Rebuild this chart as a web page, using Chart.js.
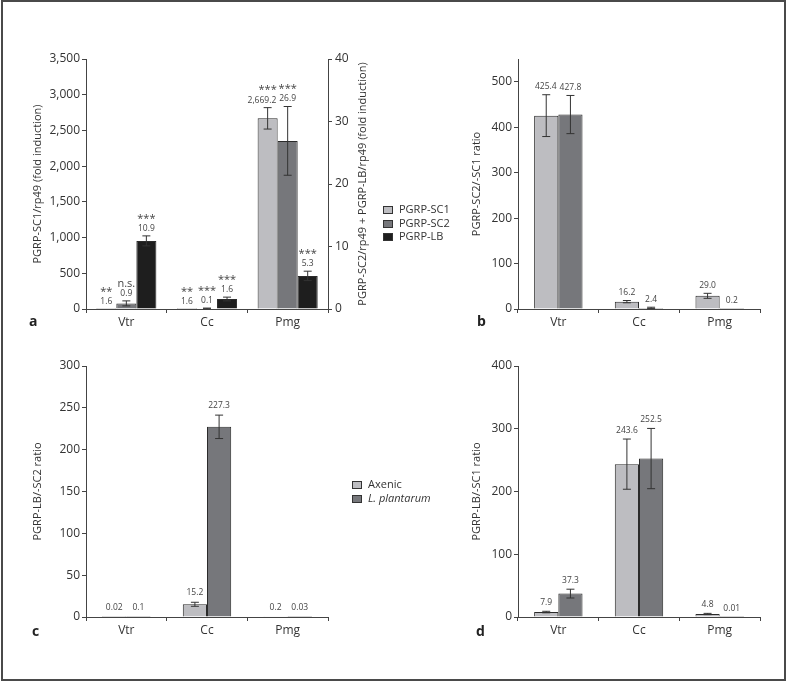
<!DOCTYPE html>
<html>
<head>
<meta charset="utf-8">
<script src="https://cdn.jsdelivr.net/npm/chart.js@4/dist/chart.umd.min.js"></script>
<style>
body { margin: 0; background: #fff; font-family: "Open Sans", sans-serif; }
#frame { position: absolute; left: 1px; top: 0; width: 785px; height: 681px; box-sizing: border-box; border: 2px solid #4a4a4a; }
canvas { position: absolute; }
.letter { position: absolute; font-weight: bold; font-size: 14px; color: #222; line-height: 16px; }
.legend { position: absolute; font-size: 11px; color: #333; }
.legend div { height: 13.5px; line-height: 13.5px; white-space: nowrap; }
.legend span { display: inline-block; width: 8px; height: 6px; border: 1px solid #333; margin-right: 6px; vertical-align: -1px; }
</style>
</head>
<body>
<div id="frame"></div>
<canvas id="chartA" width="400" height="345" style="left:0;top:0"></canvas>
<canvas id="chartB" width="387" height="345" style="left:400px;top:0"></canvas>
<canvas id="chartC" width="400" height="337" style="left:0;top:345px"></canvas>
<canvas id="chartD" width="387" height="337" style="left:400px;top:345px"></canvas>

<div class="letter" style="left:29px;top:313px">a</div>
<div class="letter" style="left:477px;top:313px">b</div>
<div class="letter" style="left:32px;top:623px">c</div>
<div class="letter" style="left:476px;top:623px">d</div>

<div class="legend" style="left:383px;top:202px">
  <div><span style="background:#bdbdc1"></span>PGRP-SC1</div>
  <div><span style="background:#76777b"></span>PGRP-SC2</div>
  <div><span style="background:#1e1e1e"></span>PGRP-LB</div>
</div>
<div class="legend" style="left:352px;top:477px">
  <div><span style="background:#bdbdc1"></span>Axenic</div>
  <div><span style="background:#76777b"></span><i>L. plantarum</i></div>
</div>

<script>
const categories = ['Vtr', 'Cc', 'Pmg'];

// panel a: SC1 on left axis, SC2 and LB on right axis
const aSC1 = [1.6, 1.6, 2669.2];
const aSC1Err = [0, 0, 150];
const aSC1Text = ['1.6', '1.6', '2,669.2'];
const aSC1Stars = ['**', '**', '***'];
const aSC2 = [0.9, 0.1, 26.9];
const aSC2Err = [0.4, 0.05, 5.5];
const aSC2Text = ['0.9', '0.1', '26.9'];
const aSC2Stars = ['n.s.', '***', '***'];
const aLB = [10.9, 1.6, 5.3];
const aLBErr = [0.8, 0.3, 0.75];
const aLBText = ['10.9', '1.6', '5.3'];
const aLBStars = ['***', '***', '***'];

// panel b: SC2/SC1 ratio
const bSC1 = [425.4, 16.2, 29.0];
const bSC1Err = [46, 2.5, 5.5];
const bSC1Text = ['425.4', '16.2', '29.0'];
const bSC2 = [427.8, 2.4, 0.2];
const bSC2Err = [42, 1.5, 0];
const bSC2Text = ['427.8', '2.4', '0.2'];

// panel c: LB/SC2 ratio
const cAxenic = [0.02, 15.2, 0.2];
const cAxenicErr = [0, 2.4, 0];
const cAxenicText = ['0.02', '15.2', '0.2'];
const cLp = [0.1, 227.3, 0.03];
const cLpErr = [0, 14, 0];
const cLpText = ['0.1', '227.3', '0.03'];

// panel d: LB/SC1 ratio
const dAxenic = [7.9, 243.6, 4.8];
const dAxenicErr = [1.2, 40, 1];
const dAxenicText = ['7.9', '243.6', '4.8'];
const dLp = [37.3, 252.5, 0.01];
const dLpErr = [7, 48, 0];
const dLpText = ['37.3', '252.5', '0.01'];

const light = '#bdbdc1', mid = '#76777b', dark = '#1e1e1e';
const axisColor = '#444';
const font = 'Open Sans';
const numFont = '8.5px "' + font + '"';

const errorBars = {
  id: 'errorBars',
  afterDatasetsDraw(chart, args, opts) {
    const ctx = chart.ctx;
    ctx.save();
    ctx.font = numFont;
    const labels = []; // per category, in dataset order
    chart.data.datasets.forEach((ds, i) => {
      const meta = chart.getDatasetMeta(i);
      const scale = chart.scales[meta.yAxisID];
      meta.data.forEach((bar, j) => {
        const v = ds.data[j], e = ds.err[j];
        const yTop = scale.getPixelForValue(v + e);
        const yBot = scale.getPixelForValue(Math.max(v - e, 0));
        if (e > 0) {
          ctx.strokeStyle = '#333';
          ctx.lineWidth = 1;
          ctx.beginPath();
          ctx.moveTo(bar.x, yTop); ctx.lineTo(bar.x, yBot);
          ctx.moveTo(bar.x - 4, yTop); ctx.lineTo(bar.x + 4, yTop);
          ctx.moveTo(bar.x - 4, yBot); ctx.lineTo(bar.x + 4, yBot);
          ctx.stroke();
        }
        const y = Math.min(yTop, bar.y) - opts.offset;
        (labels[j] = labels[j] || []).push({
          text: ds.text[j], stars: ds.stars ? ds.stars[j] : null,
          x: bar.x, tx: bar.x, y: y, w: ctx.measureText(ds.text[j]).width
        });
      });
    });
    // nudge a number label left when it would run into its right neighbour
    labels.forEach(group => {
      for (let k = group.length - 2; k >= 0; k--) {
        const l = group[k], r = group[k + 1];
        if (Math.abs(l.y - r.y) > 9) continue;
        const overlap = (l.tx + l.w / 2) - (r.tx - r.w / 2) + 3;
        if (overlap > 0) l.tx -= overlap;
      }
    });
    ctx.fillStyle = '#444';
    ctx.textAlign = 'center';
    ctx.textBaseline = 'middle';
    labels.forEach(group => group.forEach(l => {
      ctx.font = numFont;
      ctx.fillText(l.text, l.tx, l.y);
      if (l.stars) {
        ctx.font = '11px "' + font + '"';
        ctx.fillText(l.stars, l.x, l.y - 10);
      }
    }));
    ctx.restore();
  }
};

const rightTitle = {
  id: 'rightTitle',
  afterDraw(chart, args, opts) {
    if (!opts.text) return;
    const ctx = chart.ctx;
    const a = chart.chartArea;
    ctx.save();
    ctx.translate(a.right + opts.offset, (a.top + a.bottom) / 2);
    ctx.rotate(-Math.PI / 2);
    ctx.fillStyle = '#333';
    ctx.font = '11px "' + font + '"';
    ctx.textAlign = 'center';
    ctx.textBaseline = 'middle';
    ctx.fillText(opts.text, 0, 0);
    ctx.restore();
  }
};

function yAxis(max, step, width, title, position) {
  const s = {
    position: position,
    min: 0,
    max: max,
    afterBuildTicks: axis => { axis.ticks = axis.ticks.filter(t => t.value % step === 0); },
    afterFit: scale => { scale.width = width; },
    border: { color: axisColor, width: 1 },
    grid: { drawOnChartArea: false, tickLength: 4, color: axisColor },
    ticks: {
      stepSize: step,
      padding: 2,
      color: '#333',
      font: { family: font, size: 12 },
      callback: v => v.toLocaleString('en-US')
    }
  };
  if (title) {
    s.title = { display: true, text: title.text, color: '#333', font: { family: font, size: 11 }, padding: { top: title.pad, bottom: 0 } };
  }
  return s;
}

function xAxis(height) {
  return {
    afterFit: scale => { scale.height = height; },
    border: { color: axisColor, width: 1 },
    grid: { drawOnChartArea: false, offset: true, tickLength: 4, color: axisColor },
    ticks: { padding: 2, color: '#333', font: { family: font, size: 12 } }
  };
}

function bars(label, data, err, text, color, stars, yAxisID) {
  return {
    label: label, data: data, err: err, text: text, stars: stars,
    yAxisID: yAxisID || 'y',
    backgroundColor: color, borderColor: '#2b2b2b', borderWidth: 1,
    barPercentage: 1
  };
}

function baseOptions(padding, offset) {
  return {
    responsive: false,
    animation: false,
    layout: { padding: padding },
    plugins: {
      legend: { display: false },
      tooltip: { enabled: false },
      errorBars: { offset: offset }
    }
  };
}

// panel a
const optA = baseOptions({ top: 59, right: 0, left: 0, bottom: 0 }, 7.5);
optA.datasets = { bar: { categoryPercentage: 0.745 } };
optA.scales = {
  x: xAxis(36),
  y: yAxis(3500, 500, 86, { text: 'PGRP-SC1/rp49 (fold induction)', pad: 31 }, 'left'),
  y2: yAxis(40, 10, 72, null, 'right')
};
optA.scales.y2.ticks.padding = 3;
optA.plugins.rightTitle = { text: 'PGRP-SC2/rp49 + PGRP-LB/rp49 (fold induction)', offset: 35 };
new Chart(document.getElementById('chartA'), {
  type: 'bar',
  data: {
    labels: categories,
    datasets: [
      bars('PGRP-SC1', aSC1, aSC1Err, aSC1Text, light, aSC1Stars, 'y'),
      bars('PGRP-SC2', aSC2, aSC2Err, aSC2Text, mid, aSC2Stars, 'y2'),
      bars('PGRP-LB', aLB, aLBErr, aLBText, dark, aLBStars, 'y2')
    ]
  },
  options: optA,
  plugins: [errorBars, rightTitle]
});

// panel b
const optB = baseOptions({ top: 59, right: 27, left: 0, bottom: 0 }, 8);
optB.datasets = { bar: { categoryPercentage: 0.6 } };
optB.scales = {
  x: xAxis(36),
  y: yAxis(550, 100, 118, { text: 'PGRP-SC2/-SC1 ratio', pad: 70 }, 'left')
};
new Chart(document.getElementById('chartB'), {
  type: 'bar',
  data: {
    labels: categories,
    datasets: [
      bars('PGRP-SC1', bSC1, bSC1Err, bSC1Text, light),
      bars('PGRP-SC2', bSC2, bSC2Err, bSC2Text, mid)
    ]
  },
  options: optB,
  plugins: [errorBars]
});

// panel c
const optC = baseOptions({ top: 21, right: 72, left: 0, bottom: 0 }, 9.5);
optC.datasets = { bar: { categoryPercentage: 0.6 } };
optC.scales = {
  x: xAxis(65),
  y: yAxis(300, 50, 86, { text: 'PGRP-LB/-SC2 ratio', pad: 31 }, 'left')
};
new Chart(document.getElementById('chartC'), {
  type: 'bar',
  data: {
    labels: categories,
    datasets: [
      bars('Axenic', cAxenic, cAxenicErr, cAxenicText, light),
      bars('L. plantarum', cLp, cLpErr, cLpText, mid)
    ]
  },
  options: optC,
  plugins: [errorBars]
});

// panel d
const optD = baseOptions({ top: 21, right: 27, left: 0, bottom: 0 }, 8.5);
optD.datasets = { bar: { categoryPercentage: 0.6 } };
optD.scales = {
  x: xAxis(65),
  y: yAxis(400, 100, 118, { text: 'PGRP-LB/-SC1 ratio', pad: 70 }, 'left')
};
new Chart(document.getElementById('chartD'), {
  type: 'bar',
  data: {
    labels: categories,
    datasets: [
      bars('Axenic', dAxenic, dAxenicErr, dAxenicText, light),
      bars('L. plantarum', dLp, dLpErr, dLpText, mid)
    ]
  },
  options: optD,
  plugins: [errorBars]
});
</script>
</body>
</html>
